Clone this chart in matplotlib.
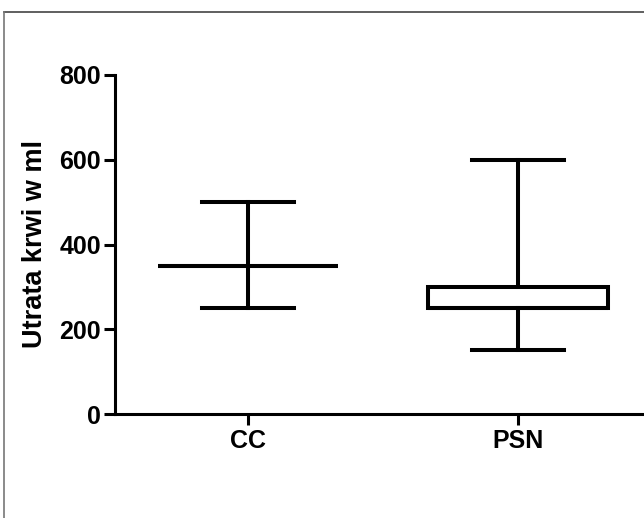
import matplotlib
matplotlib.use("Agg")
import matplotlib.pyplot as plt
from matplotlib.lines import Line2D

categories = ["CC", "PSN"]
whisker_low = [250, 150]
q1 = [350, 250]
median = [350, 250]
q3 = [350, 300]
whisker_high = [500, 600]
yticks = [0, 200, 400, 600, 800]

plt.rcParams['font.family'] = ['Liberation Sans', 'DejaVu Sans']
plt.rcParams['font.weight'] = 'bold'

W, H = 644, 518
fig = plt.figure(figsize=(W / 100, H / 100), dpi=100)
ax = fig.add_axes([115 / W, (H - 414) / H, 1 - 115 / W, (414 - 75) / H])

stats = []
for i, c in enumerate(categories):
    stats.append(dict(label=c, whislo=whisker_low[i], q1=q1[i], med=median[i],
                      q3=q3[i], whishi=whisker_high[i], fliers=[]))

lw = 2.9
ax.bxp(stats, positions=[1, 2], widths=0.667, capwidths=0.34, patch_artist=True,
       showfliers=False,
       boxprops=dict(facecolor='white', edgecolor='black', linewidth=lw),
       medianprops=dict(color='black', linewidth=lw),
       whiskerprops=dict(color='black', linewidth=lw),
       capprops=dict(color='black', linewidth=lw))

ax.set_xlim(1 - 133 / 270, 2 + 126 / 270)
ax.set_ylim(0, 800)
ax.set_yticks(yticks)
ax.set_xticks([1, 2])
ax.set_xticklabels(categories)
for s in ['top', 'right']:
    ax.spines[s].set_visible(False)
for s in ['left', 'bottom']:
    ax.spines[s].set_linewidth(2.2)
ax.tick_params(axis='both', width=2.2, length=8, labelsize=18, pad=2)
ax.tick_params(axis='x', pad=3)
for lab in ax.get_xticklabels() + ax.get_yticklabels():
    lab.set_fontweight('bold')
ax.set_ylabel("Utrata krwi w ml", fontsize=19.5, fontweight='bold', labelpad=8)

# figure border (top and left visible in the crop)
fig.add_artist(Line2D([4 / W, 1], [1 - 12 / H, 1 - 12 / H], transform=fig.transFigure,
                      color='#444444', linewidth=1.2))
fig.add_artist(Line2D([4 / W, 4 / W], [0, 1 - 12 / H], transform=fig.transFigure,
                      color='#777777', linewidth=1.2))

fig.savefig("out.png", dpi=100)
